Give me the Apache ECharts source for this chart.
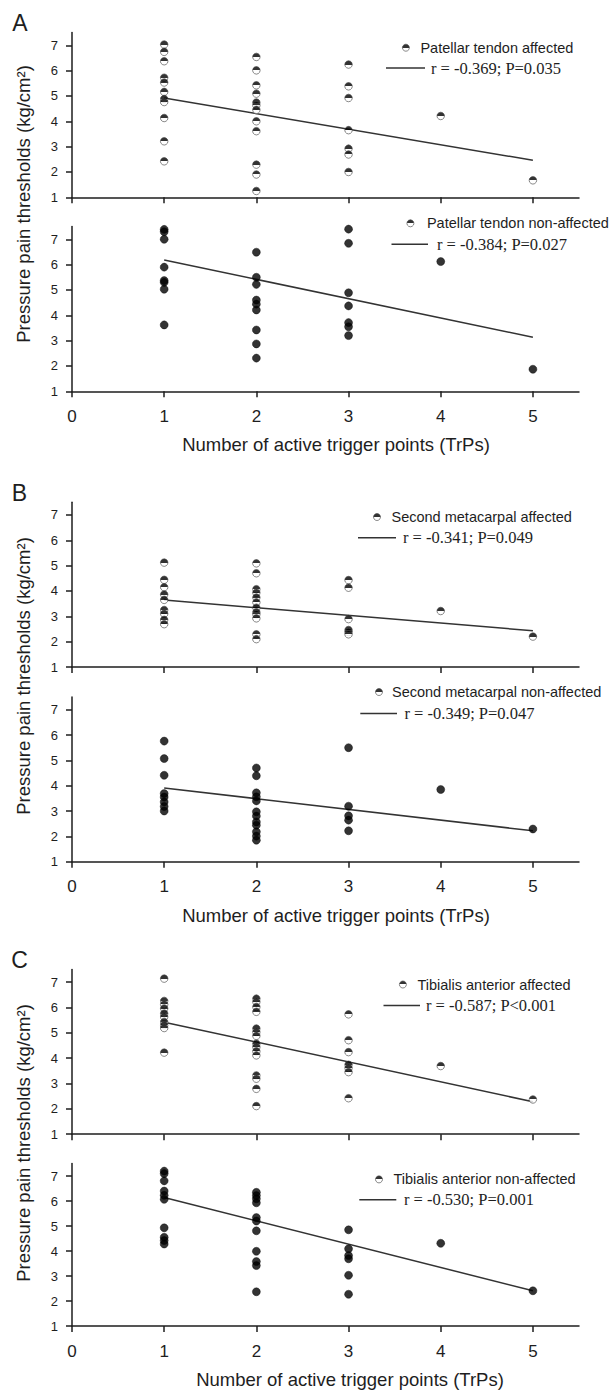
<!DOCTYPE html>
<html><head><meta charset="utf-8">
<script src="https://cdn.jsdelivr.net/npm/echarts@6/dist/echarts.min.js"></script>
<style>html,body{margin:0;padding:0;background:#fff}#c{width:614px;height:1390px}</style>
</head><body><div id="c"></div>
<script>
// ---------- data ----------
const xTicks = [0, 1, 2, 3, 4, 5];
const yTicks = [1, 2, 3, 4, 5, 6, 7];
const xTitle = 'Number of active trigger points (TrPs)';
const yTitle = 'Pressure pain thresholds (kg/cm²)';
const panelLetters = ['A', 'B', 'C'];
const seriesNames = ['Patellar tendon affected', 'Patellar tendon non-affected',
  'Second metacarpal affected', 'Second metacarpal non-affected',
  'Tibialis anterior affected', 'Tibialis anterior non-affected'];
const fitLabels = ['r = -0.369; P=0.035', 'r = -0.384; P=0.027',
  'r = -0.341; P=0.049', 'r = -0.349; P=0.047',
  'r = -0.587; P<0.001', 'r = -0.530; P=0.001'];

// [number of active TrPs, pressure pain threshold]
const patellarAffected = [
  [1,7.03],[1,6.74],[1,6.37],[1,5.72],[1,5.53],[1,5.16],[1,4.88],[1,4.76],[1,4.13],[1,3.21],[1,2.42],
  [2,6.54],[2,6.01],[2,5.42],[2,5.09],[2,4.74],[2,4.63],[2,4.45],[2,4.0],[2,3.61],[2,2.29],[2,1.9],[2,1.25],
  [3,6.24],[3,5.38],[3,4.92],[3,3.65],[3,2.92],[3,2.69],[3,2.0],
  [4,4.21],[5,1.67]];
const patellarNonAffected = [
  [1,7.39],[1,7.3],[1,7.0],[1,5.9],[1,5.37],[1,5.3],[1,5.03],[1,3.62],
  [2,6.49],[2,5.5],[2,5.22],[2,4.6],[2,4.44],[2,4.21],[2,3.42],[2,2.87],[2,2.31],
  [3,7.4],[3,6.84],[3,4.89],[3,4.37],[3,3.71],[3,3.55],[3,3.2],
  [4,6.12],[5,1.87]];
const metacarpalAffected = [
  [1,5.12],[1,4.44],[1,4.15],[1,3.86],[1,3.65],[1,3.25],[1,3.1],[1,2.86],[1,2.69],
  [2,5.09],[2,4.7],[2,4.07],[2,3.93],[2,3.74],[2,3.55],[2,3.34],[2,3.16],[2,3.08],[2,2.92],[2,2.29],[2,2.1],
  [3,4.43],[3,4.13],[3,2.89],[3,2.46],[3,2.38],[3,2.29],
  [4,3.21],[5,2.2]];
const metacarpalNonAffected = [
  [1,5.76],[1,5.07],[1,4.41],[1,3.69],[1,3.55],[1,3.36],[1,3.18],[1,3.0],
  [2,4.7],[2,4.39],[2,3.72],[2,3.56],[2,3.4],[2,2.97],[2,2.8],[2,2.57],[2,2.44],[2,2.18],[2,2.01],[2,1.85],
  [3,5.5],[3,3.19],[3,2.81],[3,2.64],[3,2.22],
  [4,3.85],[5,2.29]];
const tibialisAffected = [
  [1,7.14],[1,6.26],[1,6.12],[1,5.96],[1,5.76],[1,5.63],[1,5.43],[1,5.3],[1,5.19],[1,4.22],
  [2,6.35],[2,6.22],[2,6.02],[2,5.83],[2,5.17],[2,5.03],[2,4.88],[2,4.57],[2,4.44],[2,4.27],[2,4.11],[2,3.32],[2,3.19],[2,2.79],[2,2.11],
  [3,5.73],[3,4.71],[3,4.24],[3,3.74],[3,3.61],[3,3.45],[3,2.42],
  [4,3.69],[5,2.37]];
const tibialisNonAffected = [
  [1,7.2],[1,7.1],[1,6.81],[1,6.4],[1,6.23],[1,6.07],[1,4.93],[1,4.55],[1,4.42],[1,4.28],
  [2,6.35],[2,6.22],[2,6.09],[2,5.93],[2,5.34],[2,5.2],[2,4.81],[2,3.99],[2,3.58],[2,3.42],[2,2.37],
  [3,4.85],[3,4.09],[3,3.82],[3,3.69],[3,3.03],[3,2.27],
  [4,4.31],[5,2.41]];

// regression lines (end points)
const fitPatellarAffected = [[1,4.92],[5,2.46]];
const fitPatellarNonAffected = [[1,6.18],[5,3.13]];
const fitMetacarpalAffected = [[1,3.64],[5,2.43]];
const fitMetacarpalNonAffected = [[1,3.91],[5,2.22]];
const fitTibialisAffected = [[1,5.42],[5,2.28]];
const fitTibialisNonAffected = [[1,6.14],[5,2.41]];

const scatterData = [patellarAffected, patellarNonAffected, metacarpalAffected, metacarpalNonAffected, tibialisAffected, tibialisNonAffected];
const fitData = [fitPatellarAffected, fitPatellarNonAffected, fitMetacarpalAffected, fitMetacarpalNonAffected, fitTibialisAffected, fitTibialisNonAffected];

// ---------- layout ----------
const GL = 72, GW = 507, GH = 164.7;
const layout = [
  {top: 32.6,   half: true,  bottom: false, mk: [402, 37.7, 6],   ln: [386, 58, 39, 1]},
  {top: 226.6,  half: false, bottom: true,  mk: [406.5, 213.3, 8], ln: [391.5, 234.2, 36.5, 4], namePad: 21},
  {top: 502.3,  half: true,  bottom: false, mk: [373.1, 507, 6],   ln: [358, 527.7, 38, 2]},
  {top: 697,    half: false, bottom: true,  mk: [375.1, 682, 4.5], ln: [360.3, 703.6, 36.7, 2.5], namePad: 21},
  {top: 969.5,  half: true,  bottom: false, mk: [399, 974.5, 6],   ln: [383.5, 995.6, 36.5, 1]},
  {top: 1163.6, half: false, bottom: true,  mk: [375.1, 1169.4, 6], ln: [359.3, 1189.8, 37, 2.6], namePad: 49}
];
const letterPos = [[20, 22.5], [19.5, 493], [19.5, 960]];
const yTitlePos = [[23, 204], [23, 676], [23, 1143]];

const INK = '#1e1e1e';
const SANS = 'Liberation Sans, Arial, sans-serif';
const SERIF = 'Liberation Serif, Times New Roman, serif';
const halfFill = {type: 'linear', x: 0, y: 0, x2: 0, y2: 1, colorStops: [
  {offset: 0, color: '#000'}, {offset: 0.5, color: '#000'},
  {offset: 0.5, color: '#fff'}, {offset: 1, color: '#fff'}]};
const halfStyle = {color: halfFill, borderColor: '#444', borderWidth: 0.8};
const fullStyle = {color: '#000', borderColor: '#000', borderWidth: 0.5};

const grids = [], xAxes = [], yAxes = [], series = [], legends = [];
layout.forEach((L, i) => {
  grids.push({left: GL, width: GW, top: L.top, height: GH});
  xAxes.push({
    gridIndex: i, type: 'value', min: 0, max: 5.5,
    axisLine: {show: true, onZero: false, lineStyle: {color: INK, width: 1.5}},
    axisTick: {show: true, inside: false, length: 6, customValues: xTicks, lineStyle: {color: INK, width: 1.5}},
    axisLabel: {show: L.bottom, customValues: xTicks, fontSize: 17, margin: 16.5, color: INK, fontFamily: SANS},
    splitLine: {show: false},
    name: L.bottom ? xTitle : '', nameLocation: 'middle', nameGap: 44,
    nameTextStyle: {fontSize: 18.5, color: INK, fontFamily: SANS, padding: [0, 0, 0, L.namePad || 0]}
  });
  yAxes.push({
    gridIndex: i, type: 'value', min: 1, max: 7.5,
    axisLine: {show: true, onZero: false, lineStyle: {color: INK, width: 1.5}},
    axisTick: {show: true, inside: false, length: 6, customValues: yTicks, lineStyle: {color: INK, width: 1.5}},
    axisLabel: {show: true, customValues: yTicks, fontSize: 13, margin: 14, color: INK, fontFamily: SANS},
    splitLine: {show: false}
  });
  series.push({
    type: 'line', name: fitLabels[i], xAxisIndex: i, yAxisIndex: i, data: fitData[i],
    symbol: 'none', silent: true, z: 2,
    lineStyle: {color: '#333', width: 1.5}, itemStyle: {color: '#333'}
  });
  series.push({
    type: 'scatter', name: seriesNames[i], xAxisIndex: i, yAxisIndex: i, data: scatterData[i],
    symbol: 'circle', symbolSize: L.half ? 7.5 : 8, z: 3,
    itemStyle: L.half ? halfStyle : fullStyle,
    emphasis: {disabled: true}
  });
  legends.push({
    left: L.mk[0], top: L.mk[1], padding: 0, orient: 'vertical', selectedMode: false,
    itemWidth: 7, itemHeight: 7,
    data: [{name: seriesNames[i], icon: 'circle', itemStyle: halfStyle}],
    textStyle: {fontFamily: SANS, fontSize: 14.5, color: INK, lineHeight: 20, padding: [0, 0, 0, L.mk[2]]}
  });
  legends.push({
    left: L.ln[0], top: L.ln[1], padding: 0, orient: 'vertical', selectedMode: false,
    itemWidth: L.ln[2], itemHeight: 1.5,
    data: [{name: fitLabels[i], icon: 'rect', itemStyle: {color: '#333'}}],
    textStyle: {fontFamily: SERIF, fontSize: 16.5, color: INK, lineHeight: 20, padding: [0, 0, 0, L.ln[3]]}
  });
});

const graphics = [];
panelLetters.forEach((t, k) => {
  graphics.push({type: 'text', x: letterPos[k][0], y: letterPos[k][1],
    style: {text: t, fontSize: 23, fontFamily: SANS, fill: INK, align: 'center', verticalAlign: 'middle'}});
  graphics.push({type: 'text', x: yTitlePos[k][0], y: yTitlePos[k][1], rotation: Math.PI / 2,
    style: {text: yTitle, fontSize: 18.5, fontFamily: SANS, fill: INK, align: 'center', verticalAlign: 'middle'}});
});

const chart = echarts.init(document.getElementById('c'), null, {renderer: 'svg', width: 614, height: 1390});
chart.setOption({
  backgroundColor: '#fff',
  animation: false,
  grid: grids, xAxis: xAxes, yAxis: yAxes, series: series, legend: legends,
  graphic: graphics
});
</script>
</body></html>
